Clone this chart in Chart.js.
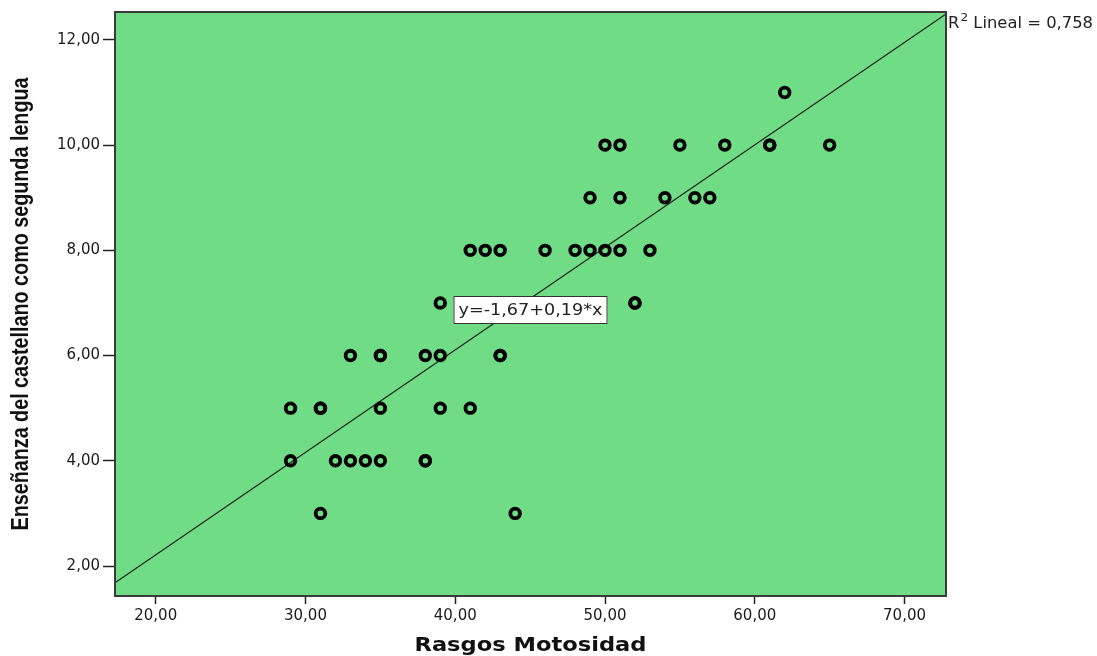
<!DOCTYPE html>
<html>
<head>
<meta charset="utf-8">
<script src="https://cdn.jsdelivr.net/npm/chart.js@4"></script>
<style>
  html, body { margin: 0; padding: 0; background: #fff; }
  #chart { display: block; }
</style>
</head>
<body>
<canvas id="chart" width="1097" height="656"></canvas>
<script>
"use strict";

/* scatter data: Rasgos Motosidad (x) vs Enseñanza del castellano (y) */
const motosidad = [29, 29, 31, 31, 31, 32, 33, 33, 34, 35, 35, 35, 35, 38, 38, 38, 39, 39, 39,
                   41, 41, 42, 43, 43, 43, 44, 46, 48, 49, 49, 50, 50, 51, 51, 51, 52, 52,
                   53, 54, 55, 56, 57, 58, 61, 61, 62, 65];
const ensenanza = [4, 5, 5, 5, 3, 4, 4, 6, 4, 4, 5, 6, 6, 4, 4, 6, 6, 5, 7,
                   5, 8, 8, 8, 6, 6, 3, 8, 8, 8, 9, 8, 10, 10, 9, 8, 7, 7,
                   8, 9, 10, 9, 9, 10, 10, 10, 11, 10];

const xTicks = [20, 30, 40, 50, 60, 70];
const yTicks = [2, 4, 6, 8, 10, 12];
const xRange = [17.28, 72.77];
const yRange = [1.43, 12.53];

// linear fit as drawn (label rounds to -1,67 + 0,19x)
const fitIntercept = -1.685;
const fitSlope = 0.1948;
const eqLabel = "y=-1,67+0,19*x";
const r2Label = ["R", "2", " Lineal = 0,758"];

const fmt = (v) => v.toFixed(2).replace(".", ",");

// draw text stretched/squeezed to a target width (SPSS fonts render wide)
function fitText(ctx, text, x, y, targetW) {
  const w = ctx.measureText(text).width;
  ctx.save();
  ctx.translate(x, y);
  ctx.scale(targetW / w, 1);
  ctx.fillText(text, 0, 0);
  ctx.restore();
}

const frame = {
  id: "frame",
  beforeDraw(chart) {
    const { ctx, chartArea: a } = chart;
    ctx.save();
    ctx.fillStyle = "#70dc86";
    ctx.fillRect(a.left, a.top, a.right - a.left, a.bottom - a.top);
    ctx.restore();
  },
  afterDraw(chart) {
    const { ctx, chartArea: a } = chart;
    ctx.save();
    ctx.strokeStyle = "#3a3a3a";
    ctx.lineWidth = 2;
    ctx.strokeRect(a.left, a.top, a.right - a.left, a.bottom - a.top);

    // axis titles
    ctx.fillStyle = "#111";
    ctx.textBaseline = "middle";
    ctx.textAlign = "center";
    ctx.font = "bold 20px 'DejaVu Sans'";
    fitText(ctx, "Rasgos Motosidad", (a.left + a.right) / 2, 646, 232);

    ctx.save();
    ctx.translate(22, (a.top + a.bottom) / 2);
    ctx.rotate(-Math.PI / 2);
    ctx.font = "bold 23px 'Liberation Sans'";
    fitText(ctx, "Enseñanza del castellano como segunda lengua", 0, 0, 453);
    ctx.restore();

    // equation box
    const cx = (a.left + a.right) / 2, cy = (a.top + a.bottom) / 2 + 6;
    ctx.fillStyle = "#fff";
    ctx.fillRect(cx - 77, cy - 14, 154, 28);
    ctx.strokeStyle = "#333";
    ctx.lineWidth = 1;
    ctx.strokeRect(cx - 77 + 0.5, cy - 14 + 0.5, 153, 27);
    ctx.fillStyle = "#222";
    ctx.font = "15px 'DejaVu Sans'";
    fitText(ctx, eqLabel, cx, cy + 1, 144);

    // R² label outside top-right corner, squeezed to 145px
    ctx.textAlign = "left";
    ctx.textBaseline = "alphabetic";
    ctx.fillStyle = "#222";
    const big = "15px 'DejaVu Sans'", small = "11px 'DejaVu Sans'";
    ctx.font = big;
    const w0 = ctx.measureText(r2Label[0]).width + 1;
    const w2 = ctx.measureText(r2Label[2]).width;
    ctx.font = small;
    const w1 = ctx.measureText(r2Label[1]).width;
    ctx.translate(a.right + 2, 28);
    ctx.scale(145 / (w0 + w1 + w2), 1);
    ctx.font = big;
    ctx.fillText(r2Label[0], 0, 0);
    ctx.font = small;
    ctx.fillText(r2Label[1], w0, -7);
    ctx.font = big;
    ctx.fillText(r2Label[2], w0 + w1, 0);
    ctx.restore();
  },
};

new Chart(document.getElementById("chart"), {
  type: "scatter",
  data: {
    datasets: [
      {
        data: motosidad.map((v, i) => ({ x: v, y: ensenanza[i] })),
        pointRadius: 4.8,
        pointBorderWidth: 3.8,
        pointBorderColor: "#000",
        pointBackgroundColor: "rgba(0,0,0,0)",
        pointHoverRadius: 4.8,
        order: 1,
      },
      {
        type: "line",
        data: xRange.map((v) => ({ x: v, y: fitIntercept + fitSlope * v })),
        borderColor: "#1e2a20",
        borderWidth: 1.3,
        pointRadius: 0,
        fill: false,
        order: 2,
      },
    ],
  },
  options: {
    responsive: false,
    animation: false,
    layout: { padding: { top: 10, right: 151, left: 0, bottom: 0 } },
    plugins: { legend: { display: false }, tooltip: { enabled: false } },
    scales: {
      x: {
        type: "linear",
        min: xRange[0], max: xRange[1],
        afterBuildTicks: (s) => { s.ticks = xTicks.map((v) => ({ value: v })); },
        afterFit: (s) => { s.height = 60; },
        grid: { drawOnChartArea: false, drawTicks: true, tickLength: 8, color: "#222", tickWidth: 1.5 },
        border: { display: false },
        ticks: { padding: 3, color: "#1a1a1a", font: { family: "DejaVu Sans", size: 15 }, callback: fmt, maxRotation: 0 },
      },
      y: {
        type: "linear",
        min: yRange[0], max: yRange[1],
        afterBuildTicks: (s) => { s.ticks = yTicks.map((v) => ({ value: v })); },
        afterFit: (s) => { s.width = 115; },
        grid: { drawOnChartArea: false, drawTicks: true, tickLength: 12, color: "#222", tickWidth: 1.5 },
        border: { display: false },
        ticks: { padding: 3, color: "#1a1a1a", font: { family: "DejaVu Sans", size: 15 }, callback: fmt },
      },
    },
  },
  plugins: [frame],
});
</script>
</body>
</html>
